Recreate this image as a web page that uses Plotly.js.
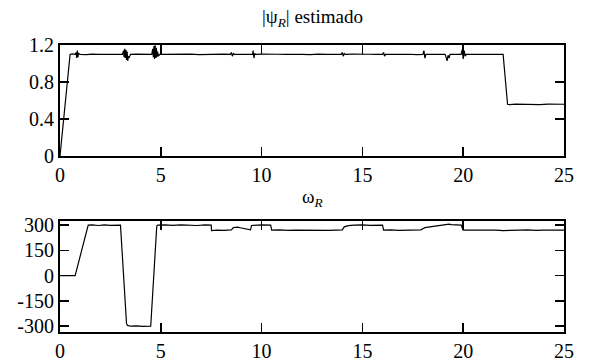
<!DOCTYPE html>
<html>
<head>
<meta charset="utf-8">
<script src="https://cdn.plot.ly/plotly-3.0.1.min.js"></script>
<style>
html,body{margin:0;padding:0;background:#fff;}
#chart{width:589px;height:361px;}
#chart .main-svg text{font-family:'Liberation Serif','DejaVu Serif',serif !important;fill:#000 !important;}
#chart .xtick text,#chart .ytick text,#chart .x2tick text,#chart .y2tick text{font-size:20px !important;}
#chart .annotation-text{font-size:19px !important;}
</style>
</head>
<body>
<div id="chart"></div>
<script>
// |psi_R| estimado (time s, value)
const psiT = [0, 0.5, 0.6, 0.75, 0.8, 0.83, 0.86, 0.89, 0.92, 1.0, 1.3, 1.6, 1.9, 2.2, 2.5, 2.8, 3.1,
  3.15, 3.18, 3.21, 3.24, 3.27, 3.30, 3.33, 3.36, 3.39, 3.42, 3.46, 3.5, 3.8, 4.1, 4.4, 4.55,
  4.6, 4.63, 4.66, 4.69, 4.72, 4.75, 4.78, 4.81, 4.84, 4.88, 4.95, 5.3, 5.7, 6.1, 6.5, 6.9, 7.3, 7.7, 8.1, 8.45,
  8.5, 8.55, 8.6, 8.65, 9.0, 9.4, 9.55, 9.58, 9.62, 9.66, 9.7, 10.0, 10.4, 10.8, 11.2, 11.6, 12.0, 12.4, 12.8, 13.2, 13.6, 13.95,
  14.0, 14.05, 14.1, 14.15, 14.5, 14.9, 15.3, 15.7, 16.0, 16.05, 16.1, 16.15, 16.5, 16.9, 17.3, 17.7, 18.0,
  18.05, 18.1, 18.15, 18.5, 18.8, 19.1, 19.15, 19.2, 19.25, 19.3, 19.35, 19.6, 19.9, 19.95, 20.0, 20.05, 20.1, 20.15,
  20.5, 20.9, 21.3, 21.7, 21.98, 22.2, 22.3, 22.6, 23.0, 23.4, 23.8, 24.2, 24.6, 25.0];
const psiV = [0, 1.10, 1.105, 1.10, 1.12, 1.06, 1.14, 1.07, 1.11, 1.10, 1.098, 1.103, 1.099, 1.102, 1.098, 1.101, 1.10,
  1.14, 1.07, 1.16, 1.06, 1.15, 1.04, 1.13, 1.03, 1.08, 1.06, 1.09, 1.10, 1.102, 1.098, 1.10, 1.10,
  1.16, 1.07, 1.19, 1.05, 1.20, 1.06, 1.17, 1.07, 1.13, 1.08, 1.10, 1.102, 1.098, 1.10, 1.103, 1.098, 1.101, 1.099, 1.102, 1.10,
  1.12, 1.08, 1.11, 1.10, 1.099, 1.102, 1.10, 1.14, 1.06, 1.11, 1.10, 1.103, 1.098, 1.101, 1.099, 1.102, 1.10, 1.098, 1.103, 1.099, 1.101, 1.10,
  1.12, 1.08, 1.11, 1.10, 1.102, 1.098, 1.101, 1.099, 1.10, 1.12, 1.08, 1.10, 1.102, 1.099, 1.101, 1.098, 1.10,
  1.14, 1.06, 1.10, 1.102, 1.099, 1.10, 1.07, 1.03, 1.09, 1.06, 1.10, 1.101, 1.10, 1.15, 1.05, 1.14, 1.08, 1.10,
  1.101, 1.098, 1.102, 1.10, 1.10, 0.56, 0.555, 0.562, 0.558, 0.561, 0.556, 0.562, 0.557, 0.56];

// omega_R (time s, value)
const omgT = [0, 0.75, 1.4, 1.6, 1.9, 2.2, 2.5, 2.8, 3.0, 3.3, 3.35, 3.5, 3.8, 4.1, 4.4, 4.5, 4.8, 4.85,
  5.2, 5.6, 6.0, 6.4, 6.8, 7.2, 7.5, 7.52, 7.8, 8.1, 8.5, 8.6, 8.8, 9.0, 9.2, 9.45, 9.5, 9.7, 10.0, 10.45,
  10.5, 10.9, 11.3, 11.7, 12.1, 12.5, 12.9, 13.3, 13.7, 14.0, 14.1, 14.3, 14.6, 15.0, 15.4, 15.8, 16.0,
  16.05, 16.4, 16.8, 17.2, 17.6, 17.9, 18.1, 18.5, 19.0, 19.3, 19.4, 19.9, 20.0,
  20.4, 20.8, 21.2, 21.6, 22.0, 22.4, 22.8, 23.2, 23.6, 24.0, 24.4, 24.8, 25.0];
const omgV = [0, 0, 300, 302, 298, 301, 299, 302, 300, -285, -295, -300, -298, -301, -299, -300, 295, 300,
  301, 299, 302, 300, 298, 301, 300, 268, 271, 269, 272, 285, 288, 283, 280, 272, 298, 300, 302, 300,
  270, 272, 269, 271, 270, 268, 271, 269, 271, 272, 290, 297, 300, 302, 299, 301, 300,
  270, 272, 269, 271, 270, 272, 285, 292, 298, 306, 303, 300, 270,
  271, 269, 272, 270, 268, 271, 270, 272, 269, 271, 270, 269, 270];

const xTicks = [0, 5, 10, 15, 20, 25];
const psiTicks = [0, 0.4, 0.8, 1.2];
const psiTickText = ['0', '0.4', '0.8', '1.2'];
const omgTicks = [-300, -150, 0, 150, 300];
const omgTickText = ['-300', '-150', '0', '150', '300'];

const FAMILY = 'Liberation Serif';
function mkFont(size) { return {family: FAMILY, size: size, color: 'black'}; }

function axis(extra) {
  return Object.assign({
    showline: true, linewidth: 2, linecolor: 'black', mirror: 'ticks',
    ticks: 'inside', ticklen: 9, tickwidth: 1.5, tickcolor: 'black',
    showgrid: false, zeroline: false, tickfont: mkFont(20)
  }, extra);
}

const traces = [
  {x: psiT, y: psiV, xaxis: 'x', yaxis: 'y', type: 'scatter', mode: 'lines',
   line: {color: 'black', width: 1.2}},
  {x: omgT, y: omgV, xaxis: 'x2', yaxis: 'y2', type: 'scatter', mode: 'lines',
   line: {color: 'black', width: 1.2}}
];

const layout = {
  width: 589, height: 361,
  margin: {l: 60, r: 25, t: 0, b: 0},
  showlegend: false, font: mkFont(20),
  xaxis: axis({domain: [0, 1], range: [0, 25], tickvals: xTicks, anchor: 'y'}),
  yaxis: axis({domain: [0.568, 0.875], range: [0, 1.2], tickvals: psiTicks, ticktext: psiTickText, anchor: 'x'}),
  xaxis2: axis({domain: [0, 1], range: [0, 25], tickvals: xTicks, anchor: 'y2'}),
  yaxis2: axis({domain: [0.080, 0.388], range: [-335, 325], tickvals: omgTicks, ticktext: omgTickText, anchor: 'x2'}),
  annotations: [
    {text: '|ψ<sub><i>R</i></sub>| estimado', xref: 'paper', yref: 'paper', x: 0.5, y: 1 - 18/361,
     xanchor: 'center', yanchor: 'middle', showarrow: false, font: mkFont(19)},
    {text: 'ω<sub><i>R</i></sub>', xref: 'paper', yref: 'paper', x: 0.5, y: 1 - 198/361,
     xanchor: 'center', yanchor: 'middle', showarrow: false, font: mkFont(19)}
  ]
};

Plotly.newPlot('chart', traces, layout, {staticPlot: true});
</script>
</body>
</html>
